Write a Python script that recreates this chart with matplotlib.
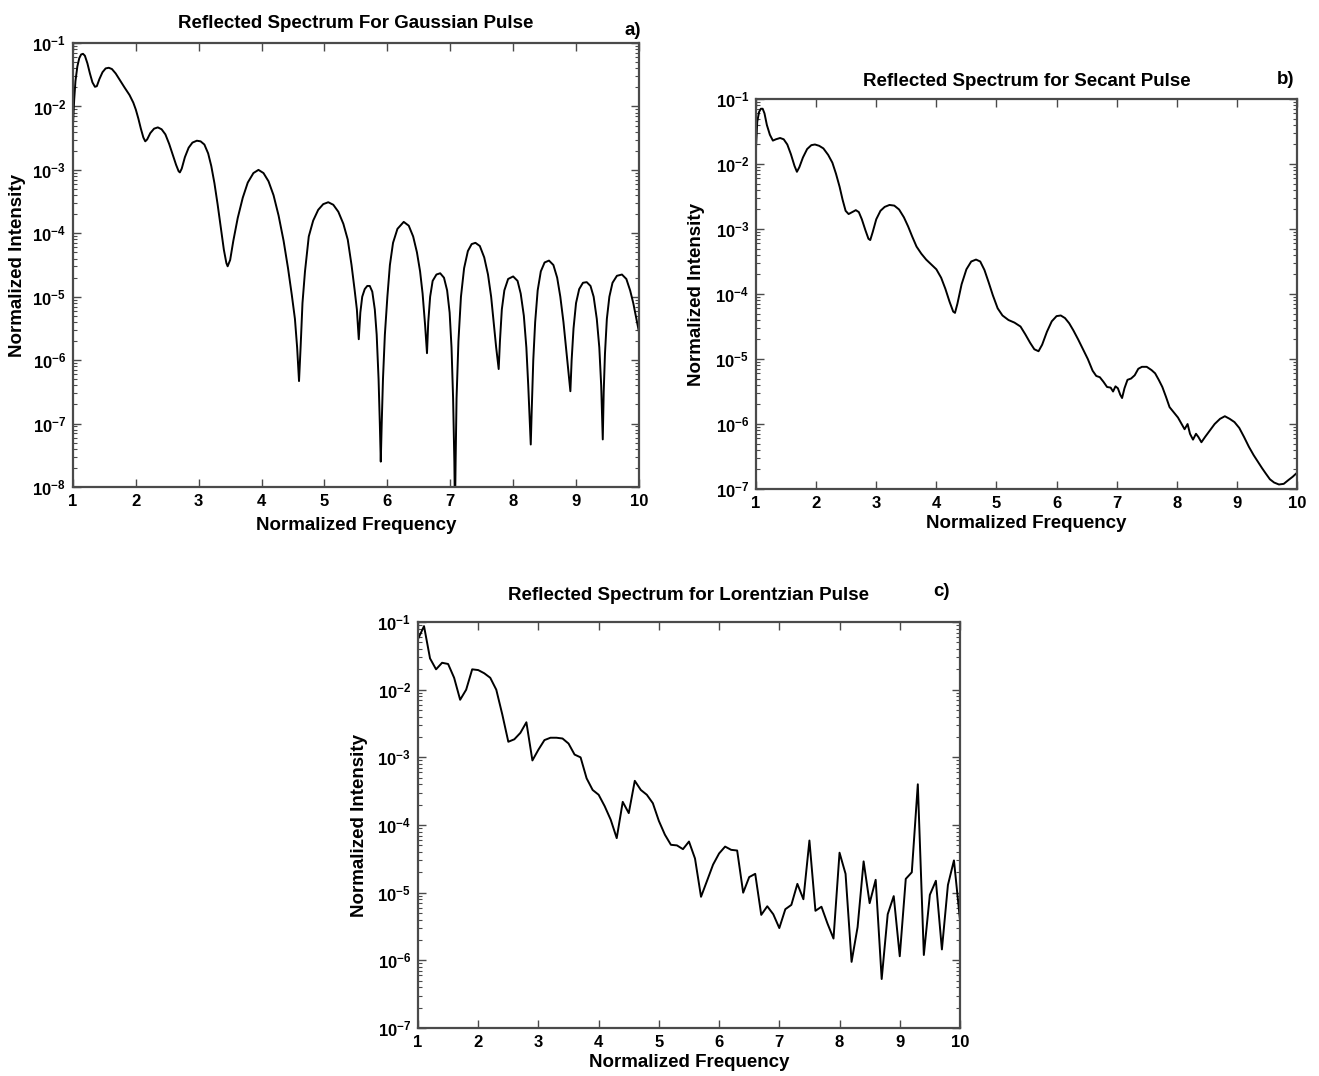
"""
Reflected spectra (Gaussian / secant / Lorentzian pulses), log scale.
Values read off the published figure.
"""

import numpy as np
import matplotlib
matplotlib.use("Agg")
import matplotlib.pyplot as plt

plt.rcParams["font.family"] = ["Liberation Sans", "DejaVu Sans"]
plt.rcParams["font.weight"] = "bold"
plt.rcParams["mathtext.fontset"] = "custom"
plt.rcParams["mathtext.rm"] = "Liberation Sans:bold"
plt.rcParams["mathtext.it"] = "Liberation Sans:bold"
plt.rcParams["mathtext.bf"] = "Liberation Sans:bold"
plt.rcParams["mathtext.sf"] = "Liberation Sans:bold"

# --- a) Gaussian pulse: frequency and log10(intensity) ---
gauss_freq = [
    1.00, 1.02, 1.04, 1.07, 1.10, 1.13, 1.16, 1.19, 1.23, 1.27, 1.31, 1.35,
    1.38, 1.42, 1.47, 1.52, 1.57, 1.62, 1.68, 1.75, 1.82, 1.90, 1.96, 2.00,
    2.04, 2.08, 2.12, 2.15, 2.18, 2.23, 2.29, 2.35, 2.41, 2.47, 2.53, 2.59,
    2.64, 2.68, 2.70, 2.73, 2.78, 2.84, 2.90, 2.97, 3.03, 3.09, 3.15, 3.20,
    3.25, 3.30, 3.35, 3.40, 3.44, 3.46,
    3.50, 3.55, 3.62, 3.70, 3.78, 3.87, 3.95, 4.03, 4.11, 4.19, 4.27, 4.35,
    4.42, 4.48, 4.53, 4.565, 4.595,
    4.62, 4.65, 4.69, 4.75, 4.82, 4.90, 4.98, 5.06, 5.14, 5.22, 5.30, 5.37,
    5.43, 5.48, 5.515, 5.545,
    5.57, 5.60, 5.64, 5.68, 5.72, 5.76, 5.80, 5.83, 5.86, 5.88, 5.895,
    5.91, 5.93, 5.96, 6.00, 6.04, 6.09, 6.16, 6.26, 6.34, 6.41, 6.47, 6.52,
    6.56, 6.60, 6.63,
    6.65, 6.68, 6.72, 6.78, 6.84, 6.90, 6.95, 6.99, 7.02, 7.045, 7.065, 7.075,
    7.085, 7.10, 7.13, 7.17, 7.22, 7.28, 7.34, 7.40, 7.47, 7.54, 7.60, 7.65,
    7.69, 7.73, 7.77,
    7.79, 7.82, 7.86, 7.92, 8.00, 8.07, 8.12, 8.17, 8.21, 8.24, 8.265, 8.28,
    8.295, 8.32, 8.35, 8.39, 8.44, 8.50, 8.57, 8.64, 8.70, 8.75, 8.80, 8.85,
    8.88, 8.91,
    8.93, 8.96, 9.00, 9.05, 9.11, 9.17, 9.23, 9.28, 9.33, 9.37, 9.40, 9.415,
    9.425,
    9.44, 9.46, 9.49, 9.53, 9.58, 9.65, 9.73, 9.80, 9.86, 9.91, 9.95, 10.00,
]
gauss_log = [
    -2.30, -1.89, -1.60, -1.37, -1.24, -1.18, -1.17, -1.20, -1.32, -1.48, -1.62, -1.69,
    -1.68, -1.57, -1.46, -1.40, -1.39, -1.41, -1.48, -1.59, -1.70, -1.82, -1.94, -2.05,
    -2.19, -2.35, -2.49, -2.55, -2.52, -2.42, -2.35, -2.33, -2.36, -2.44, -2.59, -2.77,
    -2.92, -3.02, -3.04, -2.98, -2.80, -2.65, -2.57, -2.54, -2.55, -2.60, -2.74, -2.94,
    -3.21, -3.54, -3.90, -4.26, -4.47, -4.52,
    -4.42, -4.12, -3.76, -3.44, -3.20, -3.05, -3.00, -3.05, -3.18, -3.40, -3.72, -4.12,
    -4.55, -4.97, -5.35, -5.80, -6.33,
    -5.80, -5.10, -4.60, -4.05, -3.80, -3.63, -3.54, -3.51, -3.55, -3.66, -3.85, -4.10,
    -4.50, -4.90, -5.20, -5.67,
    -5.25, -5.00, -4.88, -4.83, -4.83, -4.92, -5.20, -5.60, -6.30, -7.00, -7.60,
    -7.00, -6.30, -5.60, -5.00, -4.50, -4.15, -3.93, -3.82, -3.88, -4.05, -4.30, -4.60,
    -4.95, -5.45, -5.89,
    -5.40, -5.00, -4.75, -4.65, -4.63, -4.70, -4.90, -5.25, -5.80, -6.60, -7.60, -8.40,
    -7.60, -6.60, -5.70, -5.00, -4.55, -4.28, -4.17, -4.15, -4.20, -4.38, -4.65, -5.00,
    -5.40, -5.80, -6.14,
    -5.70, -5.20, -4.90, -4.72, -4.68, -4.75, -4.95, -5.30, -5.80, -6.40, -7.00, -7.33,
    -6.80, -6.00, -5.40, -4.90, -4.60, -4.46, -4.43, -4.50, -4.70, -5.00, -5.40, -5.90,
    -6.20, -6.49,
    -6.00, -5.50, -5.10, -4.88, -4.78, -4.77, -4.83, -5.00, -5.35, -5.80, -6.40, -6.90,
    -7.25,
    -6.50, -5.90, -5.35, -5.00, -4.78, -4.67, -4.65, -4.72, -4.90, -5.10, -5.30, -5.55,
]

# --- b) secant pulse: frequency and log10(intensity) ---
secant_freq = [
    1.00, 1.02, 1.05, 1.08, 1.11, 1.14, 1.18, 1.23, 1.28, 1.33, 1.40, 1.46,
    1.52, 1.58, 1.64, 1.68, 1.72, 1.78, 1.85, 1.92, 1.98, 2.05, 2.12, 2.20,
    2.27, 2.33, 2.39, 2.44, 2.49, 2.54, 2.60, 2.66, 2.71, 2.76, 2.82, 2.87,
    2.90, 2.94, 3.00, 3.07, 3.14, 3.22, 3.30, 3.38, 3.46, 3.53, 3.60, 3.67,
    3.75, 3.83, 3.92, 4.00, 4.08, 4.15, 4.22, 4.28, 4.31, 4.35, 4.42, 4.50,
    4.58, 4.66, 4.73, 4.80, 4.87, 4.94, 5.02, 5.10, 5.20, 5.30, 5.40, 5.48,
    5.56, 5.63, 5.70, 5.76, 5.84, 5.92, 6.00, 6.07, 6.14, 6.21, 6.28, 6.36,
    6.44, 6.52, 6.60, 6.66, 6.72, 6.78, 6.84, 6.90, 6.94, 6.98, 7.02, 7.06,
    7.09, 7.13, 7.18, 7.24, 7.30, 7.36, 7.42, 7.50, 7.58, 7.64, 7.70, 7.76,
    7.82, 7.88, 7.95, 8.02, 8.08, 8.13, 8.18, 8.22, 8.27, 8.32, 8.36, 8.41,
    8.47, 8.55, 8.63, 8.72, 8.80, 8.88, 8.96, 9.04, 9.12, 9.20, 9.28, 9.35,
    9.42, 9.48, 9.55, 9.62, 9.70, 9.78, 9.86, 9.93, 10.00,
]
secant_log = [
    -1.73, -1.35, -1.20, -1.15, -1.15, -1.22, -1.40, -1.55, -1.64, -1.62, -1.60, -1.62,
    -1.70, -1.85, -2.03, -2.12, -2.05, -1.90, -1.77, -1.71, -1.70, -1.72, -1.76, -1.86,
    -1.98, -2.15, -2.35, -2.55, -2.72, -2.77, -2.74, -2.71, -2.74, -2.85, -3.02, -3.15,
    -3.17, -3.05, -2.85, -2.72, -2.66, -2.63, -2.64, -2.70, -2.82, -2.96, -3.12, -3.27,
    -3.38, -3.47, -3.55, -3.62, -3.75, -3.92, -4.12, -4.27, -4.29, -4.15, -3.85, -3.62,
    -3.50, -3.47, -3.50, -3.63, -3.82, -4.02, -4.22, -4.33, -4.40, -4.44, -4.50, -4.62,
    -4.75, -4.85, -4.88, -4.78, -4.58, -4.42, -4.34, -4.33, -4.37, -4.45, -4.56, -4.70,
    -4.85, -5.00, -5.18, -5.26, -5.28, -5.35, -5.43, -5.44, -5.50, -5.42, -5.45, -5.55,
    -5.60, -5.45, -5.32, -5.30, -5.25, -5.15, -5.12, -5.12, -5.17, -5.22, -5.32, -5.43,
    -5.58, -5.74, -5.82, -5.90, -6.00, -6.08, -6.00, -6.15, -6.24, -6.15, -6.20, -6.28,
    -6.20, -6.10, -6.00, -5.92, -5.88, -5.92, -5.97, -6.06, -6.20, -6.35, -6.48, -6.58,
    -6.68, -6.76, -6.85, -6.90, -6.93, -6.92, -6.86, -6.81, -6.75,
]

# --- c) Lorentzian pulse, sampled every 0.1 in frequency ---
lorentz_freq = np.linspace(1, 10, 91)
lorentz_int = [
    5.6e-2, 8.7e-2, 2.9e-2, 2.0e-2, 2.5e-2, 2.4e-2, 1.5e-2, 7.1e-3, 1.0e-2, 2.0e-2,
    1.95e-2, 1.75e-2, 1.5e-2, 1.0e-2, 4.3e-3, 1.7e-3, 1.85e-3, 2.3e-3, 3.3e-3, 9.0e-4,
    1.3e-3, 1.8e-3, 1.95e-3, 1.95e-3, 1.9e-3, 1.6e-3, 1.1e-3, 1.0e-3, 4.9e-4, 3.3e-4,
    2.8e-4, 1.9e-4, 1.2e-4, 6.4e-5, 2.2e-4, 1.5e-4, 4.5e-4, 3.3e-4, 2.8e-4, 2.1e-4,
    1.15e-4, 7.2e-5, 5.1e-5, 5.0e-5, 4.4e-5, 5.7e-5, 3.2e-5, 8.7e-6, 1.5e-5, 2.6e-5,
    3.8e-5, 4.8e-5, 4.3e-5, 4.2e-5, 1.0e-5, 1.7e-5, 1.9e-5, 4.7e-6, 6.3e-6, 4.8e-6,
    3.0e-6, 5.7e-6, 6.6e-6, 1.35e-5, 8.0e-6, 5.9e-5, 5.4e-6, 6.2e-6, 3.5e-6, 2.1e-6,
    3.9e-5, 1.9e-5, 9.5e-7, 3.1e-6, 2.9e-5, 7.0e-6, 1.55e-5, 5.3e-7, 4.8e-6, 8.9e-6,
    1.15e-6, 1.6e-5, 2.0e-5, 4.0e-4, 1.2e-6, 9.3e-6, 1.5e-5, 1.45e-6, 1.3e-5, 3.0e-5,
    4.0e-6,
]

FRAME = "#4a4a4a"
TICK_SIZE = 12
LABEL_SIZE = 13.5
TITLE_SIZE = 13.5


def style_axes(ax, ymin_exp):
    ax.set_yscale("log")
    ax.set_xlim(1, 10)
    ax.set_ylim(10.0 ** ymin_exp, 1e-1)
    ax.set_xticks(range(1, 11))
    ax.set_xticklabels([str(i) for i in range(1, 11)])
    exps = list(range(ymin_exp, 0))
    ax.set_yticks([10.0 ** e for e in exps])
    ax.set_yticklabels([r"$10^{%d}$" % e for e in exps])
    ax.tick_params(which="both", direction="in", top=True, right=True,
                   color=FRAME, labelsize=TICK_SIZE, pad=5)
    ax.tick_params(which="major", length=6, width=1.0)
    ax.tick_params(which="minor", length=3, width=0.8)
    for s in ax.spines.values():
        s.set_color(FRAME)
        s.set_linewidth(1.6)


def panel(fig, rect, freq, inten, ymin_exp, title, title_pad, tag, tag_xy,
          xlab_y, ylab_x):
    ax = fig.add_axes(rect)
    ax.plot(freq, inten, color="black", lw=1.4)
    style_axes(ax, ymin_exp)
    ax.set_title(title, fontsize=TITLE_SIZE, fontweight="bold", pad=title_pad)
    ax.set_xlabel("Normalized Frequency", fontsize=LABEL_SIZE, fontweight="bold")
    ax.set_ylabel("Normalized Intensity", fontsize=LABEL_SIZE, fontweight="bold")
    ax.xaxis.set_label_coords(0.5, xlab_y)
    ax.yaxis.set_label_coords(ylab_x, 0.5)
    ax.text(tag_xy[0], tag_xy[1], tag, transform=ax.transAxes, ha="right",
            va="center", fontsize=13.5, fontweight="bold")
    return ax


fig = plt.figure(figsize=(13.19, 10.76), dpi=100)

panel(fig, [0.0553, 0.5474, 0.4291, 0.4126],
      gauss_freq, 10.0 ** np.array(gauss_log), -8,
      "Reflected Spectrum For Gaussian Pulse", 11, "a)", (1.003, 1.029),
      -0.068, -0.083)

panel(fig, [0.5732, 0.5455, 0.4101, 0.3625],
      secant_freq, 10.0 ** np.array(secant_log), -7,
      "Reflected Spectrum for Secant Pulse", 9, "b)", (0.996, 1.051),
      -0.067, -0.094)

panel(fig, [0.3169, 0.0446, 0.4109, 0.3773],
      lorentz_freq, lorentz_int, -7,
      "Reflected Spectrum for Lorentzian Pulse", 16, "c)", (0.982, 1.076),
      -0.064, -0.092)

fig.savefig("out.png", dpi=100)
